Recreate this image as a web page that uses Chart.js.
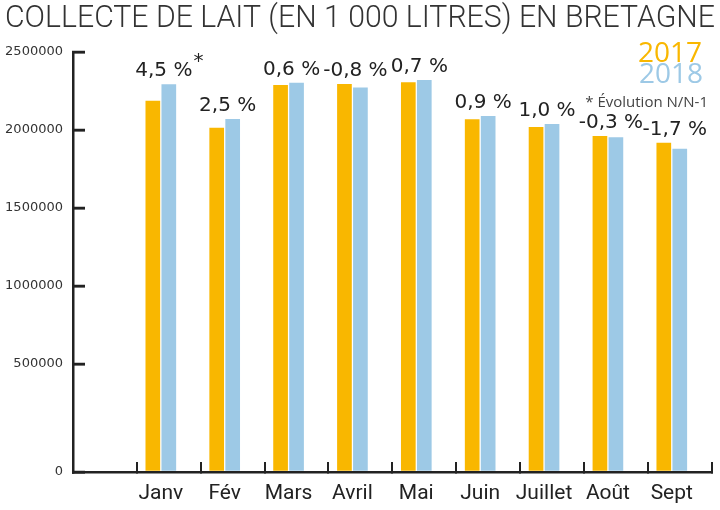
<!DOCTYPE html>
<html><head><meta charset="utf-8">
<script src="https://cdn.jsdelivr.net/npm/chart.js@4"></script>
<style>html,body{margin:0;padding:0;background:#fff}#wrap{width:720px;height:510px}</style>
</head><body><div id="wrap"><canvas id="c" width="720" height="510"></canvas></div>
<script>
const titleText = 'COLLECTE DE LAIT (EN 1 000 LITRES) EN BRETAGNE';
const months = ['Janv','Fév','Mars','Avril','Mai','Juin','Juillet','Août','Sept'];
const collecte2017 = [2188000, 2015000, 2288000, 2295000, 2306000, 2069000, 2019000, 1962000, 1919000];
const collecte2018 = [2294000, 2070000, 2303000, 2272000, 2320000, 2089000, 2038000, 1954000, 1880000];
const evolution = ['4,5 %','2,5 %','0,6 %','-0,8 %','0,7 %','0,9 %','1,0 %','-0,3 %','-1,7 %'];
const seriesNames = ['2017','2018'];
const footnote = '* Évolution N/N-1';
const yTickValues = [0, 500000, 1000000, 1500000, 2000000, 2500000];
// the original's value axis is broken: its "0" sits at the baseline below the linear position
const yAxisFloor = -192000;

const colors = ['#F9B700', '#9DC9E6'];
const categories = [''].concat(months);
const pad = arr => [null].concat(arr);

const overlay = {
  id: 'overlay',
  afterDatasetsDraw(chart) {
    const ctx = chart.ctx;
    // inward tick marks on the value axis
    const ys = chart.scales.y;
    ctx.save();
    ctx.strokeStyle = '#222';
    ctx.lineWidth = 2.5;
    ys.ticks.forEach(t => {
      const py = Math.round(ys.getPixelForValue(t.value));
      ctx.beginPath();
      ctx.moveTo(chart.chartArea.left - 1, py);
      ctx.lineTo(chart.chartArea.left + 12, py);
      ctx.stroke();
    });
    ctx.restore();

    const m0 = chart.getDatasetMeta(0), m1 = chart.getDatasetMeta(1);
    ctx.save();
    ctx.fillStyle = '#222';
    ctx.textAlign = 'center';
    ctx.textBaseline = 'middle';
    ctx.font = '20px "DejaVu Sans"';
    evolution.forEach((txt, i) => {
      const b0 = m0.data[i + 1], b1 = m1.data[i + 1];
      const x = (b0.x + b1.x) / 2 + 3;
      const y = Math.min(b0.y, b1.y) - 13;
      ctx.fillText(txt, x, y);
      if (i === 0) {
        const w = ctx.measureText(txt).width;
        ctx.fillText('*', x + w / 2 + 6, y - 9);
      }
    });
    ctx.restore();
  },
  afterDraw(chart) {
    const ctx = chart.ctx;
    ctx.save();
    ctx.font = '300 31px Roboto';
    ctx.fillStyle = '#333';
    ctx.textBaseline = 'alphabetic';
    ctx.textAlign = 'left';
    const tw = ctx.measureText(titleText).width;
    ctx.translate(5, 27);
    ctx.scale(710 / tw, 1);
    ctx.fillText(titleText, 0, 0);
    ctx.restore();

    ctx.save();
    ctx.textAlign = 'right';
    ctx.textBaseline = 'alphabetic';
    ctx.font = '28px "Open Sans"';
    ctx.fillStyle = colors[0];
    ctx.fillText(seriesNames[0], 702, 62);
    ctx.fillStyle = colors[1];
    ctx.fillText(seriesNames[1], 703, 83);
    ctx.font = '15px "Open Sans"';
    ctx.fillStyle = '#444';
    ctx.fillText(footnote, 708, 107);
    ctx.restore();
  }
};

new Chart(document.getElementById('c'), {
  type: 'bar',
  data: {
    labels: categories,
    datasets: [
      { label: seriesNames[0], data: pad(collecte2017), backgroundColor: colors[0], base: yAxisFloor },
      { label: seriesNames[1], data: pad(collecte2018), backgroundColor: colors[1], base: yAxisFloor },
      { label: '', data: categories.map(() => null), backgroundColor: 'rgba(0,0,0,0)', base: yAxisFloor }
    ]
  },
  options: {
    responsive: false,
    animation: false,
    devicePixelRatio: 1,
    categoryPercentage: 0.75,
    barPercentage: 0.92,
    layout: { padding: { top: 52, right: 2, left: 0, bottom: 0 } },
    plugins: { legend: { display: false }, tooltip: { enabled: false }, title: { display: false } },
    scales: {
      x: {
        grid: { offset: true, drawOnChartArea: false, tickLength: -10, lineWidth: 2, color: '#222' },
        border: { color: '#222', width: 2.5 },
        ticks: { font: { family: 'Roboto', size: 21 }, color: '#222', padding: 19, labelOffset: -8, maxRotation: 0, autoSkip: false },
        afterFit: s => { s.height = 38; }
      },
      y: {
        min: yAxisFloor,
        max: 2500000,
        afterBuildTicks: s => { s.ticks = yTickValues.map(v => ({ value: v === 0 ? yAxisFloor : v })); },
        grid: { drawOnChartArea: false, tickLength: -12, lineWidth: 2.5, color: '#222' },
        border: { color: '#222', width: 2.5 },
        ticks: {
          padding: 22, color: '#333', font: { family: 'DejaVu Sans', size: 13 },
          callback: v => (v === yAxisFloor ? '0' : String(v))
        },
        afterFit: s => { s.width = 73; }
      }
    }
  },
  plugins: [overlay]
});
</script></body></html>
